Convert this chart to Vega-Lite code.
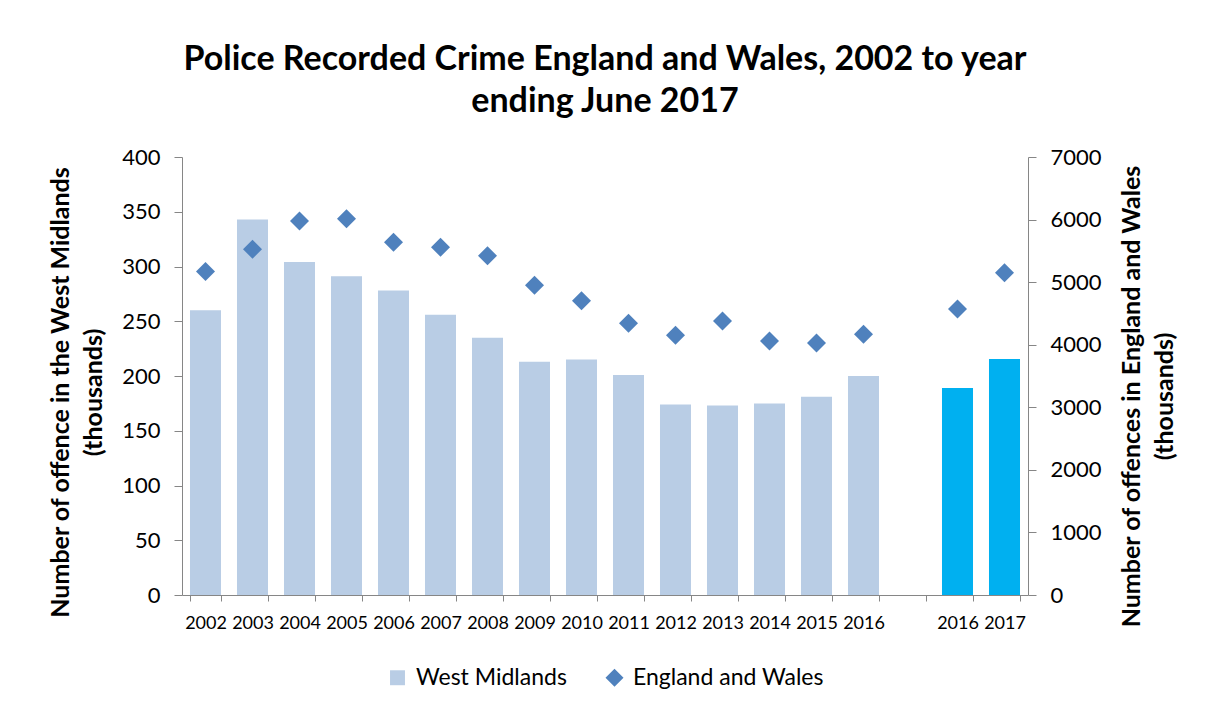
{
  "$schema": "https://vega.github.io/schema/vega-lite/v6.json",
  "width": 846,
  "height": 438,
  "autosize": {"type": "none"},
  "padding": {"left": 182, "top": 157, "right": 178, "bottom": 114},
  "background": "white",
  "config": {
    "font": "Lato",
    "view": {"stroke": null},
    "axis": {"domainColor": "#868686", "tickColor": "#868686", "labelColor": "#000000", "titleColor": "#000000", "grid": false, "labelFont": "Lato", "titleFont": "Lato"},
    "legend": {"labelFont": "Lato", "labelColor": "#000000", "layout": {"bottom": {"anchor": "middle", "direction": "horizontal"}}}
  },
  "title": {
    "text": ["Police Recorded Crime England and Wales, 2002 to year", "ending June 2017"],
    "fontSize": 34, "font": "Lato", "fontWeight": "bold", "color": "#000000",
    "anchor": "middle", "lineHeight": 42, "offset": 27, "frame": "group"
  },
  "data": {
    "values": [
      {"cat": "2002", "wm": 260, "ew": 5170, "grp": "main", "series": "England and Wales"},
      {"cat": "2003", "wm": 343, "ew": 5525, "grp": "main", "series": "England and Wales"},
      {"cat": "2004", "wm": 304, "ew": 5977, "grp": "main", "series": "England and Wales"},
      {"cat": "2005", "wm": 291, "ew": 6014, "grp": "main", "series": "England and Wales"},
      {"cat": "2006", "wm": 278, "ew": 5637, "grp": "main", "series": "England and Wales"},
      {"cat": "2007", "wm": 256, "ew": 5557, "grp": "main", "series": "England and Wales"},
      {"cat": "2008", "wm": 235, "ew": 5423, "grp": "main", "series": "England and Wales"},
      {"cat": "2009", "wm": 213, "ew": 4950, "grp": "main", "series": "England and Wales"},
      {"cat": "2010", "wm": 215, "ew": 4704, "grp": "main", "series": "England and Wales"},
      {"cat": "2011", "wm": 201, "ew": 4342, "grp": "main", "series": "England and Wales"},
      {"cat": "2012", "wm": 174, "ew": 4150, "grp": "main", "series": "England and Wales"},
      {"cat": "2013", "wm": 173, "ew": 4379, "grp": "main", "series": "England and Wales"},
      {"cat": "2014", "wm": 175, "ew": 4059, "grp": "main", "series": "England and Wales"},
      {"cat": "2015", "wm": 181, "ew": 4027, "grp": "main", "series": "England and Wales"},
      {"cat": "2016", "wm": 200, "ew": 4166, "grp": "main", "series": "England and Wales"},
      {"cat": "2016b", "wm": 189, "ew": 4571, "grp": "recent", "series": "England and Wales"},
      {"cat": "2017", "wm": 215.5, "ew": 5151, "grp": "recent", "series": "England and Wales"}
    ]
  },
  "encoding": {
    "x": {
      "field": "cat", "type": "nominal", "sort": null,
      "scale": {"domain": ["2002","2003","2004","2005","2006","2007","2008","2009","2010","2011","2012","2013","2014","2015","2016","gap","2016b","2017"], "paddingInner": 0.34, "paddingOuter": 0.17},
      "axis": {"title": null, "labelAngle": 0, "labelExpr": "isString(datum.value) && datum.value !== 'gap' ? substring(datum.value, 0, 4) : ''", "tickBand": "extent", "tickSize": 6, "labelFontSize": 18, "labelPadding": 13, "labelBaseline": "top"}
    }
  },
  "layer": [
    {
      "mark": {"type": "bar"},
      "encoding": {
        "y": {
          "field": "wm", "type": "quantitative",
          "scale": {"domain": [0, 400], "nice": false},
          "axis": {"orient": "left", "values": [0,50,100,150,200,250,300,350,400], "tickSize": 8, "labelFontSize": 22, "labelPadding": 14, "title": ["Number of offence in the West Midlands", "(thousands)"], "titleFontSize": 25, "titleFontWeight": "bold", "titleLineHeight": 33, "titlePadding": 15, "titleY": 235}
        },
        "color": {"condition": {"test": "datum.grp === 'recent'", "value": "#00B0F0"}, "value": "#B9CDE5"}
      }
    },
    {
      "mark": {"type": "point", "filled": true, "opacity": 1, "size": 360},
      "encoding": {
        "y": {
          "field": "ew", "type": "quantitative",
          "scale": {"domain": [0, 7000], "nice": false},
          "axis": {"orient": "right", "format": "d", "values": [0,1000,2000,3000,4000,5000,6000,7000], "tickSize": 8, "labelFontSize": 22, "labelPadding": 14, "title": ["Number of offences in England and Wales", "(thousands)"], "titleFontSize": 25, "titleFontWeight": "bold", "titleLineHeight": 33, "titlePadding": 10, "titleAngle": 270, "titleY": 239}
        },
        "color": {
          "field": "series", "type": "nominal",
          "scale": {"domain": ["West Midlands", "England and Wales"], "range": ["#B9CDE5", "#4F81BD"]},
          "legend": {"title": null, "orient": "bottom", "direction": "horizontal", "labelFontSize": 23, "labelLimit": 400, "symbolSize": 324, "columnPadding": 36, "labelOffset": 7, "offset": 34, "symbolStrokeWidth": 0}
        },
        "shape": {
          "field": "series", "type": "nominal",
          "scale": {"domain": ["West Midlands", "England and Wales"], "range": ["M-0.83,-0.83H0.83V0.83H-0.83Z", "diamond"]},
          "legend": {"title": null, "orient": "bottom", "direction": "horizontal", "labelFontSize": 23, "labelLimit": 400, "symbolSize": 324, "columnPadding": 36, "labelOffset": 7, "offset": 34, "symbolStrokeWidth": 0}
        }
      }
    }
  ],
  "resolve": {"scale": {"y": "independent"}}
}
